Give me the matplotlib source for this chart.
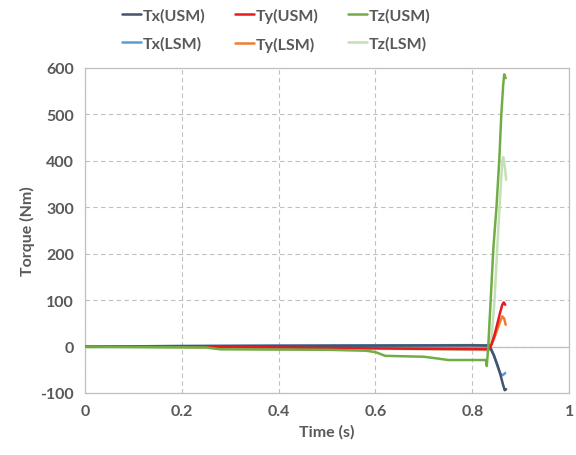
import numpy as np
import matplotlib.pyplot as plt

# ---- data (time in s, torque in Nm) ----
t_tx_usm = [0.0, 0.2, 0.4, 0.6, 0.8, 0.835, 0.845, 0.852, 0.858, 0.863, 0.867, 0.870]
tx_usm   = [0.0, 1.0, 1.5, 2.0, 2.5, 2.0, -20, -40, -60, -80, -94, -92]

t_ty_usm = [0.0, 0.3, 0.5, 0.7, 0.834, 0.840, 0.846, 0.852, 0.858, 0.862, 0.865, 0.868]
ty_usm   = [0.0, -1.0, -3.0, -5.0, -6.0, 5, 25, 50, 75, 90, 95, 90]

t_tz_usm = [0.0, 0.25, 0.28, 0.5, 0.58, 0.60, 0.62, 0.70, 0.73, 0.75, 0.828,
            0.830, 0.833, 0.838, 0.8436, 0.850, 0.856, 0.860, 0.864, 0.866, 0.869]
tz_usm   = [0.0, -2.0, -6.0, -7.0, -9.0, -12, -20, -22, -26, -29, -29,
            -42, 0, 100, 212, 300, 406, 500, 565, 586, 578]

t_tx_lsm = [0.0, 0.2, 0.4, 0.6, 0.8, 0.836, 0.845, 0.852, 0.858, 0.862, 0.865, 0.868]
tx_lsm   = [0.0, 1.0, 2.0, 2.5, 3.0, 2.5, -20, -42, -58, -62, -60, -57]

t_ty_lsm = [0.0, 0.3, 0.5, 0.7, 0.834, 0.840, 0.846, 0.852, 0.858, 0.862, 0.866, 0.869]
ty_lsm   = [0.0, -0.5, -1.5, -3.0, -3.0, 5, 20, 38, 55, 65, 60, 47]

t_tz_lsm = [0.0, 0.3, 0.6, 0.8, 0.834, 0.840, 0.846, 0.852, 0.858, 0.862, 0.864, 0.868, 0.870]
tz_lsm   = [-2.0, -3.0, -5.0, -7.0, -8.0, 20, 100, 220, 330, 400, 408, 380, 359]

series = [
    ("Tx(USM)", t_tx_usm, tx_usm, "#44546A"),
    ("Ty(USM)", t_ty_usm, ty_usm, "#E8191F"),
    ("Tz(USM)", t_tz_usm, tz_usm, "#70AD47"),
    ("Tx(LSM)", t_tx_lsm, tx_lsm, "#5B9BD5"),
    ("Ty(LSM)", t_ty_lsm, ty_lsm, "#ED7D31"),
    ("Tz(LSM)", t_tz_lsm, tz_lsm, "#C5E0B4"),
]

x_ticks = [0, 0.2, 0.4, 0.6, 0.8, 1.0]
x_tick_labels = ["0", "0.2", "0.4", "0.6", "0.8", "1"]
y_ticks = [-100, 0, 100, 200, 300, 400, 500, 600]

plt.rcParams["font.family"] = ["Lato", "DejaVu Sans"]
plt.rcParams["axes.unicode_minus"] = False
text_col = "#595959"
grid_col = "#BFBFBF"
fs = 11.5

fig = plt.figure(figsize=(5.76, 4.56), dpi=100)
ax = fig.add_axes([0.1476, 0.136, 0.988 - 0.1476, 0.849 - 0.136])

# draw order: LSM under USM
order = [5, 4, 3, 0, 1, 2]
handles = {}
for i in order:
    name, t, v, c = series[i]
    h, = ax.plot(t, v, color=c, lw=1.8, solid_capstyle="round", label=name,
                 zorder=3 + (i < 3))
    handles[name] = h

ax.set_xlim(0, 1)
ax.set_ylim(-100, 600)
ax.set_xticks(x_ticks)
ax.set_xticklabels(x_tick_labels)
ax.set_yticks(y_ticks)
ax.tick_params(length=0, labelsize=fs, labelcolor=text_col, pad=8)
for lab in ax.get_xticklabels() + ax.get_yticklabels():
    lab.set_fontweight("bold")

ax.grid(True, color=grid_col, ls=(0, (4, 3)), lw=0.8)
ax.axhline(0, color=grid_col, lw=0.9, zorder=1)
for s in ax.spines.values():
    s.set_color(grid_col)
    s.set_linewidth(0.9)

ax.set_xlabel("Time (s)", fontsize=fs, fontweight="bold", color=text_col, labelpad=4)
ax.set_ylabel("Torque (Nm)", fontsize=fs, fontweight="bold", color=text_col, labelpad=4)

names = ["Tx(USM)", "Tx(LSM)", "Ty(USM)", "Ty(LSM)", "Tz(USM)", "Tz(LSM)"]
leg = fig.legend([handles[n] for n in names], names, loc="upper center",
                 bbox_to_anchor=(0.479, 1.012), ncol=3, frameon=False,
                 handlelength=1.2, handletextpad=0.1, columnspacing=1.85,
                 labelspacing=0.85, prop={"size": fs, "weight": "bold"})
for txt in leg.get_texts():
    txt.set_color(text_col)

fig.savefig("out.png", dpi=100)
